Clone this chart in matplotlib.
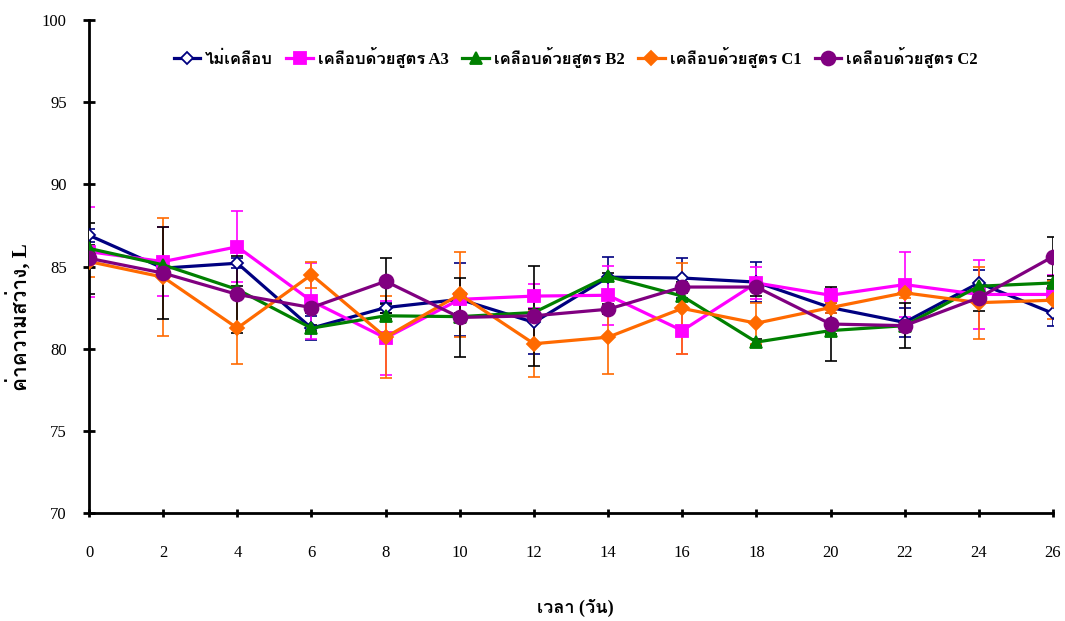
import matplotlib
matplotlib.use('Agg')
import matplotlib.pyplot as plt
from matplotlib import font_manager, ft2font
import numpy as np

# storage time (days)
days = [0, 2, 4, 6, 8, 10, 12, 14, 16, 18, 20, 22, 24, 26]

labels = ['ไม่เคลือบ', 'เคลือบด้วยสูตร A3', 'เคลือบด้วยสูตร B2',
          'เคลือบด้วยสูตร C1', 'เคลือบด้วยสูตร C2']

# lightness L*
uncoated = [86.9, 84.9, 85.2, 81.25, 82.5, 83.0, 81.6, 84.35, 84.3, 84.05, 82.5, 81.6, 84.0, 82.15]
coat_a3 = [85.9, 85.3, 86.2, 82.9, 80.65, 83.0, 83.2, 83.25, 81.1, 84.0, 83.25, 83.9, 83.3, 83.3]
coat_b2 = [86.1, 85.1, 83.6, 81.25, 82.0, 81.95, 82.2, 84.4, 83.2, 80.4, 81.1, 81.4, 83.8, 84.0]
coat_c1 = [85.3, 84.35, 81.25, 84.5, 80.7, 83.3, 80.3, 80.7, 82.45, 81.55, 82.5, 83.4, 82.8, 82.95]
coat_c2 = [85.5, 84.6, 83.3, 82.5, 84.1, 81.9, 82.0, 82.4, 83.75, 83.75, 81.5, 81.4, 83.1, 85.6]

# standard deviations
sd_uncoated = [0.4, 0.3, 0.3, 0.75, 0.3, 2.2, 1.9, 1.2, 1.2, 1.2, 0.3, 0.9, 0.8, 0.8]
sd_a3 = [2.75, 2.1, 2.15, 2.3, 2.25, 0.3, 0.75, 1.8, 1.4, 1.0, 0.4, 2.0, 2.1, 1.2]
sd_b2 = [0.2] * 14
sd_c1 = [0.95, 3.6, 2.2, 0.8, 2.5, 2.6, 2.0, 2.25, 2.75, 1.25, 0.3, 0.3, 2.2, 1.15]
sd_c2 = [2.15, 2.8, 2.35, 0.3, 1.4, 2.4, 3.05, 0.3, 0.3, 0.55, 2.25, 1.37, 0.8, 1.2]

series = [uncoated, coat_a3, coat_b2, coat_c1, coat_c2]
errors = [sd_uncoated, sd_a3, sd_b2, sd_c1, sd_c2]
colors = ['#000080', '#FF00FF', '#008000', '#FF6A00', '#800080']
err_colors = ['#000080', '#FF00FF', 'black', '#FF6A00', 'black']
markers = ['D', 's', '^', 'D', 'o']
msizes = [6, 9, 9, 7, 10]


def thai_families():
    # look for any installed font that carries Thai letters
    found = []
    for f in font_manager.fontManager.ttflist:
        try:
            cmap = ft2font.FT2Font(f.fname).get_charmap()
        except Exception:
            continue
        if 0x0E01 in cmap and f.name not in found:
            found.append(f.name)
    return found


thai = thai_families()
plt.rcParams['font.family'] = ['Liberation Serif'] + thai + ['DejaVu Sans']

fig = plt.figure(figsize=(10.65, 6.21), dpi=100)
ax = fig.add_axes([0.0836, 0.1739, 0.9051, 0.7939])

for i in range(len(series)):
    face = 'white' if i == 0 else colors[i]
    ax.errorbar(days, series[i], yerr=errors[i], fmt='none', ecolor=err_colors[i],
                elinewidth=1.2, capsize=4, capthick=1.2, zorder=2)
    ax.plot(days, series[i], color=colors[i], lw=2.3, marker=markers[i],
            ms=msizes[i], mfc=face, mec=colors[i], mew=1.3, label=labels[i], zorder=3)

ax.set_xlim(0, 26)
ax.set_ylim(70, 100)
ax.set_xticks(np.arange(0, 27, 2))
ax.set_yticks(np.arange(70, 101, 5))
ax.tick_params(axis='y', direction='inout', length=8, width=2, labelsize=12, pad=12)
ax.tick_params(axis='x', direction='inout', length=6, width=2, labelsize=12, pad=20)
for s in ['top', 'right']:
    ax.spines[s].set_visible(False)
for s in ['left', 'bottom']:
    ax.spines[s].set_linewidth(2)

ax.legend(loc='upper center', bbox_to_anchor=(0.505, 0.975), ncol=5, frameon=False,
          prop={'weight': 'bold', 'size': 12}, handlelength=1.6, handletextpad=0.3,
          columnspacing=0.8)

fig.text(0.54, 0.006, 'เวลา (วัน)', ha='center', va='bottom', fontsize=13, fontweight='bold')
fig.text(0.019, 0.49, 'ค่าความสว่าง, L', ha='center', va='center', rotation=90,
         fontsize=15, fontweight='bold')

fig.savefig('out.png', dpi=100)
